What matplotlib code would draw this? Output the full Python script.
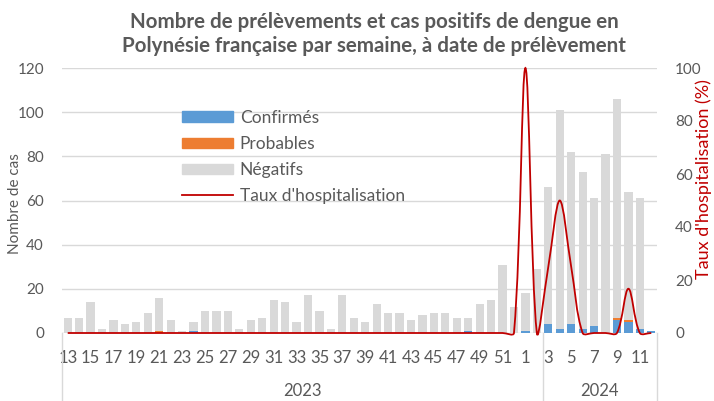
import numpy as np
import matplotlib
matplotlib.use('Agg')
from matplotlib import pyplot as plt
from matplotlib.path import Path
from matplotlib.patches import PathPatch, Patch
from matplotlib.lines import Line2D

plt.rcParams['font.family'] = ['Lato', 'DejaVu Sans']

# Semaines de prélèvement, regroupées par année comme sur l'axe d'origine
semaines = list(range(13, 53)) + list(range(1, 13))
annees = ['2023', '2024']
nb_semaines_annee = [42, 10]

confirmes = [0, 0, 0, 0, 0, 0, 0, 0, 0, 0,
             0, 1, 0, 0, 0, 0, 0, 0, 0, 0,
             0, 0, 0, 0, 0, 0, 0, 0, 0, 0,
             0, 0, 0, 0, 0, 1, 0, 0, 0, 0,
             1, 0, 4, 2, 4, 2, 3, 0, 6, 5, 2, 1]
probables = [0, 0, 0, 0, 0, 0, 0, 0, 1, 0,
             0, 0, 0, 0, 0, 0, 0, 0, 0, 0,
             0, 0, 0, 0, 0, 0, 0, 0, 0, 0,
             0, 0, 0, 0, 0, 0, 0, 0, 0, 0,
             0, 0, 0, 0, 0, 0, 0, 0, 1, 1, 0, 0]
negatifs = [7, 7, 14, 2, 6, 4, 5, 9, 15, 6,
            1, 4, 10, 10, 10, 2, 6, 7, 15, 14,
            5, 17, 10, 2, 17, 7, 5, 13, 9, 9,
            6, 8, 9, 9, 7, 6, 13, 15, 31, 12,
            17, 29, 62, 99, 78, 71, 58, 81, 99, 58, 59, 0]
taux_hospit = [0] * 40 + [100, 0, 25, 50, 25, 0, 0, 0, 0, 16.7, 0, 0]

GRIS_TXT = '#595959'
GRIS_GRILLE = '#d9d9d9'
ROUGE = '#c00000'

W, H = 714, 401
left, right, top, bottom = 62, 657, 68, 333


def excel_smooth(x, y, sx, sy, f=1 / 6):
    # courbe lissée façon Excel : Bézier cubiques, tangentes pondérées par la longueur des segments (en pixels)
    p = np.column_stack([np.asarray(x, float) * sx, np.asarray(y, float) * sy])
    n = len(p)
    verts = [p[0]]
    for i in range(n - 1):
        i0, i3 = max(i - 1, 0), min(i + 2, n - 1)
        d01 = np.hypot(*(p[i] - p[i0]))
        d12 = np.hypot(*(p[i + 1] - p[i]))
        d23 = np.hypot(*(p[i3] - p[i + 1]))
        c1 = p[i] + (p[i + 1] - p[i0]) * 2 * f * d12 / (d01 + d12)
        c2 = p[i + 1] - (p[i3] - p[i]) * 2 * f * d12 / (d12 + d23)
        verts += [c1, c2, p[i + 1]]
    verts = np.array(verts) / [sx, sy]
    codes = [Path.MOVETO] + [Path.CURVE4] * (len(verts) - 1)
    return Path(verts, codes)


fig = plt.figure(figsize=(W / 100, H / 100), dpi=100)
ax = fig.add_axes([left / W, (H - bottom) / H, (right - left) / W, (bottom - top) / H])

x = np.arange(len(semaines))
conf = np.array(confirmes)
prob = np.array(probables)
neg = np.array(negatifs)
ax.bar(x, conf, width=0.72, color='#5b9bd5')
ax.bar(x, prob, width=0.72, bottom=conf, color='#ed7d31')
ax.bar(x, neg, width=0.72, bottom=conf + prob, color=GRIS_GRILLE)

ax.set_xlim(-0.5, len(x) - 0.5)
ax.set_ylim(0, 120)
ax.set_yticks(range(0, 121, 20))
ax.yaxis.grid(True, color=GRIS_GRILLE, lw=1)
ax.set_axisbelow(True)
for s in ax.spines.values():
    s.set_visible(False)
ax.set_xticks(x[::2])
ax.set_xticklabels([str(s) for s in semaines[::2]])
ax.tick_params(axis='both', length=0, labelcolor=GRIS_TXT)
ax.tick_params(axis='x', pad=12, labelsize=12)
ax.tick_params(axis='y', pad=13, labelsize=11)

# axe des catégories à deux niveaux (années)
trans = ax.get_xaxis_transform()
depth = (H - bottom) / (bottom - top)
bornes = np.concatenate([[0], np.cumsum(nb_semaines_annee)]) - 0.5
for b in bornes:
    ax.plot([b, b], [0, -depth], transform=trans, color=GRIS_GRILLE, lw=1, clip_on=False)
for a, b0, b1 in zip(annees, bornes[:-1], bornes[1:]):
    ax.text((b0 + b1) / 2, -58 / (bottom - top), a, transform=trans, ha='center', va='center',
            fontsize=12, color=GRIS_TXT)

ax2 = ax.twinx()
ax2.set_ylim(0, 100)
ax2.set_yticks(range(0, 101, 20))
for s in ax2.spines.values():
    s.set_visible(False)
ax2.tick_params(axis='y', length=0, labelsize=11, labelcolor=GRIS_TXT, pad=13)

sx = (right - left) / len(x)
sy = (bottom - top) / 100
courbe = excel_smooth(x, taux_hospit, sx, sy)
ax2.add_patch(PathPatch(courbe, fill=False, edgecolor=ROUGE, lw=1.3, clip_on=False))

fig.text(15 / W, (H - 204) / H, 'Nombre de cas', rotation=90, ha='center', va='center',
         fontsize=11, color=GRIS_TXT)
fig.text(704 / W, (H - 179) / H, "Taux d'hospitalisation (%)", rotation=90, ha='center',
         va='center', fontsize=13, color=ROUGE)
fig.text(374 / W, (H - 34) / H,
         'Nombre de prélèvements et cas positifs de dengue en\n'
         'Polynésie française par semaine, à date de prélèvement',
         ha='center', va='center', fontsize=14.8, fontweight='bold', color=GRIS_TXT,
         linespacing=1.3)

handles = [Patch(color='#5b9bd5'), Patch(color='#ed7d31'), Patch(color=GRIS_GRILLE),
           Line2D([], [], color=ROUGE, lw=1.3)]
labels = ['Confirmés', 'Probables', 'Négatifs', "Taux d'hospitalisation"]
leg = fig.legend(handles, labels, loc='upper left', bbox_to_anchor=(182 / W, (H - 110) / H),
                 frameon=False, fontsize=12.5, handlelength=2.93, handleheight=0.58,
                 handletextpad=0.4, labelspacing=0.58, borderpad=0, borderaxespad=0)
for t in leg.get_texts():
    t.set_color(GRIS_TXT)

fig.savefig('out.png', dpi=100)
